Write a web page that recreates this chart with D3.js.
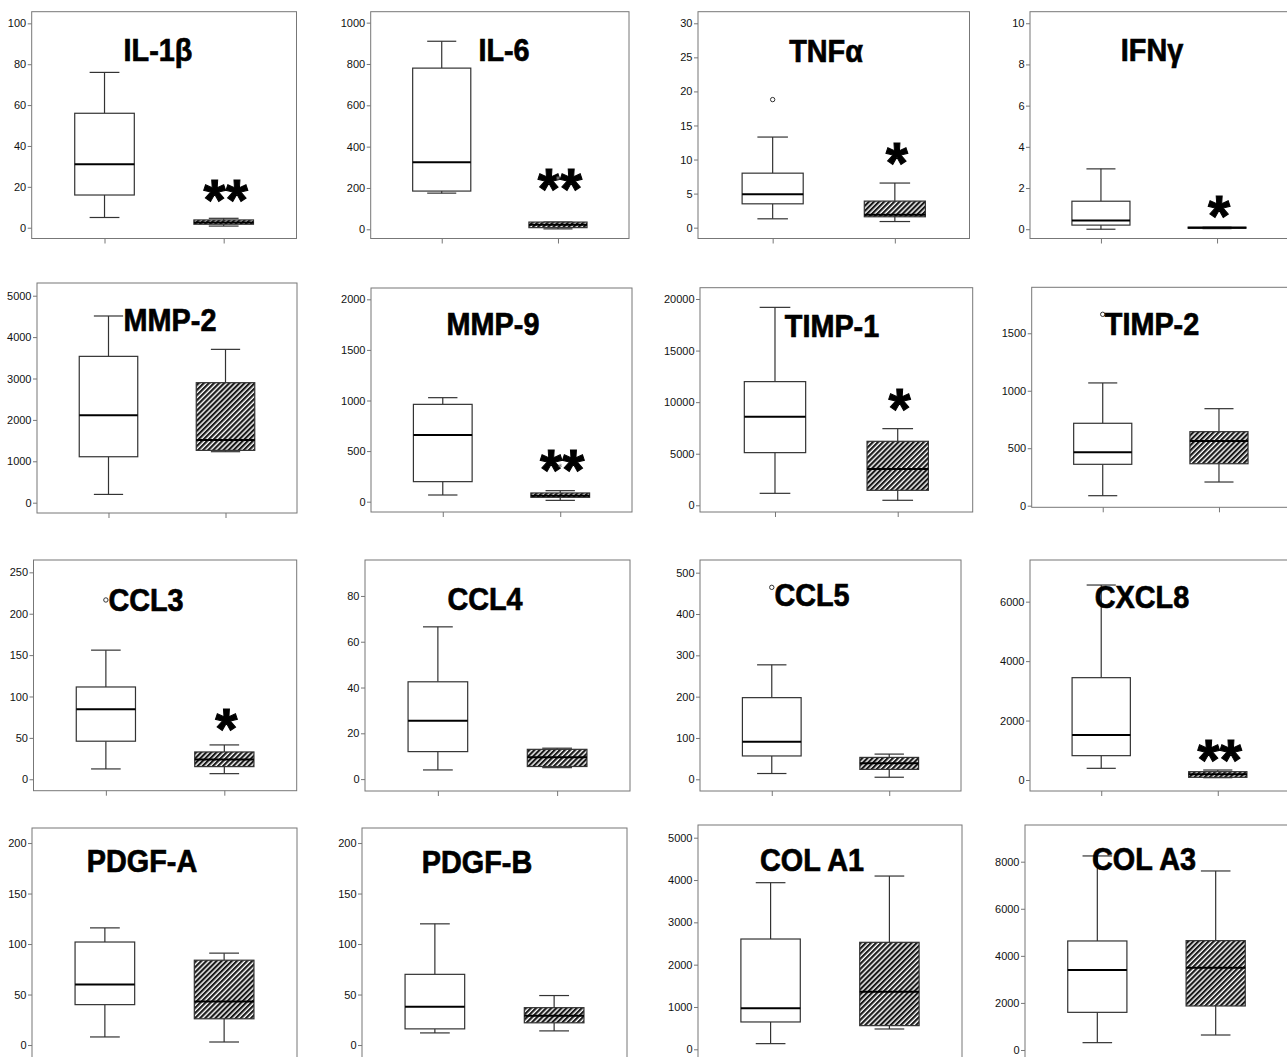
<!DOCTYPE html>
<html><head><meta charset="utf-8">
<script src="https://cdn.jsdelivr.net/npm/d3@7"></script>
<style>body{margin:0;background:#fff} svg{display:block}</style>
</head><body>
<svg id="chart" width="1287" height="1057"></svg>
<script>
// ---------- DATA ----------
const markers = ["IL-1β","IL-6","TNFα","IFNγ","MMP-2","MMP-9","TIMP-1","TIMP-2","CCL3","CCL4","CCL5","CXCL8","PDGF-A","PDGF-B","COL A1","COL A3"];
const groups = ["Group 1","Group 2"];
// [min, q1, median, q3, max]
const group1Stats = [
  [5, 16, 31, 56, 76],
  [175, 185, 325, 780, 910],
  [1.3, 3.5, 4.9, 8.0, 13.3],
  [0, 0.2, 0.42, 1.36, 2.93],
  [200, 1110, 2110, 3535, 4510],
  [66, 198, 659, 962, 1028],
  [1160, 5105, 8595, 11990, 19190],
  [87, 360, 464, 717, 1068],
  [12.5, 46, 84.5, 111.5, 156],
  [4, 12, 25.5, 42.5, 66.5],
  [14, 56.5, 91, 197.6, 277],
  [393, 819, 1514, 3443, 6560],
  [8, 40, 60, 102, 116],
  [12, 16, 38, 70, 120],
  [134, 646, 969, 2606, 3937],
  [312, 1600, 3399, 4632, 8244]
];
const group2Stats = [
  [0.8, 1.7, 2.6, 3.8, 4.6],
  [2, 8, 22, 35, 35],
  [0.9, 1.6, 1.9, 3.9, 6.55],
  [0.03, 0.05, 0.07, 0.1, 0.1],
  [1232, 1264, 1514, 2899, 3704],
  [13, 43, 59, 86, 109],
  [485, 1454, 3522, 6204, 7431],
  [206, 365, 563, 644, 844],
  [6.8, 15.3, 24, 33, 41.5],
  [5, 5.5, 9.5, 13, 13.5],
  [5, 24, 39, 53, 61],
  [78, 90, 190, 280, 336],
  [3, 26, 43, 84, 91],
  [14, 22, 29, 37, 49],
  [480, 559, 1362, 2528, 4094],
  [637, 1870, 3499, 4646, 7606]
];
// outliers (circles): [markerIndex, groupIndex, value]
const outliers = [[2, 0, 18.8], [7, 0, 1665], [8, 0, 216.6], [10, 0, 464.5]];
// extreme values (small stars): [markerIndex, groupIndex, value]
const extremes = [[1, 1, 248], [5, 1, 356]];
const significance = ["**","**","*","*","","**","*","","*","","","**","","","",""];
const significanceAt = [19.4, 253, 11.2, 1.23, 0, 435, 10528, 0, 75.6, 0, 0, 1067, 0, 0, 0, 0];
const tickValues = [
  [0,20,40,60,80,100],
  [0,200,400,600,800,1000],
  [0,5,10,15,20,25,30],
  [0,2,4,6,8,10],
  [0,1000,2000,3000,4000,5000],
  [0,500,1000,1500,2000],
  [0,5000,10000,15000,20000],
  [0,500,1000,1500],
  [0,50,100,150,200,250],
  [0,20,40,60,80],
  [0,100,200,300,400,500],
  [0,2000,4000,6000],
  [0,50,100,150,200],
  [0,50,100,150,200],
  [0,1000,2000,3000,4000,5000],
  [0,2000,4000,6000,8000]
];

// ---------- LAYOUT ----------
const frames = [
  [31.7, 11.7, 296.5, 238.5],
  [370.7, 11.7, 629, 238.5],
  [698, 11.7, 969.5, 238.5],
  [1030, 11.7, 1288, 238.5],
  [37, 283, 297, 513],
  [371, 288, 632, 512],
  [700, 287.7, 972.7, 512],
  [1031.7, 287.3, 1290, 507.3],
  [33.5, 560, 296.7, 790.7],
  [365, 560, 630, 791],
  [700, 560, 961, 791],
  [1030, 560, 1289, 791],
  [32, 828, 297, 1062],
  [362, 828, 627, 1062],
  [698, 825, 962, 1062],
  [1025, 825, 1288, 1062]
];
const yExtents = [
  [-5.28, 105.7], [-44.5, 1053], [-1.59, 31.7], [-0.45, 10.56],
  [-249, 5307], [-102, 2112], [-650, 21096], [-14, 1900],
  [-13.8, 264.9], [-5.2, 95.7], [-28.3, 530.7], [-370, 7402],
  [-16.8, 214.9], [-16.8, 214.9], [-300, 5300], [-510, 9559]
];
const titlePos = [
  [158, 61], [504, 61], [826, 61.5], [1152, 61],
  [170, 331], [493, 335], [832, 336.5], [1152, 335],
  [146, 611], [485, 610], [812, 606], [1142, 607.5],
  [142, 872], [477, 873], [812, 871], [1144, 870]
];

// ---------- DRAW ----------
const svg = d3.select("#chart");
const defs = svg.append("defs");
const pat = defs.append("pattern").attr("id","hatch").attr("patternUnits","userSpaceOnUse")
  .attr("width",3.6).attr("height",3.6).attr("patternTransform","rotate(45)");
pat.append("rect").attr("width",3.6).attr("height",3.6).attr("fill","#fff");
pat.append("rect").attr("width",2.2).attr("height",3.6).attr("fill","#1a1a1a");

const font = "'Liberation Sans', Arial, sans-serif";
const frameColor = "#777";
const boxColor = "#333";

markers.forEach((name, i) => {
  const [x0, y0, x1, y1] = frames[i];
  const g = svg.append("g");
  const y = d3.scaleLinear().domain(yExtents[i]).range([y1, y0]);
  const x = d3.scalePoint().domain(groups).range([x0, x1]).padding(0.611);
  const bw = 0.225 * (x1 - x0);

  // frame
  g.append("rect").attr("x", x0).attr("y", y0).attr("width", x1 - x0).attr("height", y1 - y0)
    .attr("fill", "none").attr("stroke", frameColor).attr("stroke-width", 1);

  // y axis
  const ya = g.append("g").attr("transform", `translate(${x0},0)`)
    .call(d3.axisLeft(y).tickValues(tickValues[i]).tickSize(4).tickPadding(1.5).tickFormat(d3.format("d")));
  ya.select(".domain").remove();
  ya.selectAll("line").attr("stroke", frameColor);
  ya.selectAll("text").attr("font-family", font).attr("font-size", 11).attr("fill", "#111");

  // x axis ticks
  const xa = g.append("g").attr("transform", `translate(0,${y1})`)
    .call(d3.axisBottom(x).tickSize(5).tickFormat(""));
  xa.select(".domain").remove();
  xa.selectAll("line").attr("stroke", frameColor);

  // boxes
  [group1Stats[i], group2Stats[i]].forEach((s, gi) => {
    const cx = x(groups[gi]);
    const [mn, q1, md, q3, mx] = s;
    const bg = g.append("g");
    bg.append("line").attr("x1", cx).attr("x2", cx).attr("y1", y(mx)).attr("y2", y(q3))
      .attr("stroke", boxColor).attr("stroke-width", 1.2);
    bg.append("line").attr("x1", cx).attr("x2", cx).attr("y1", y(q1)).attr("y2", y(mn))
      .attr("stroke", boxColor).attr("stroke-width", 1.2);
    [mn, mx].forEach(v => {
      bg.append("line").attr("x1", cx - bw / 4).attr("x2", cx + bw / 4).attr("y1", y(v)).attr("y2", y(v))
        .attr("stroke", boxColor).attr("stroke-width", 1.2);
    });
    bg.append("rect").attr("x", cx - bw / 2).attr("y", y(q3)).attr("width", bw)
      .attr("height", Math.max(1, y(q1) - y(q3)))
      .attr("fill", gi === 0 ? "#fff" : "url(#hatch)")
      .attr("stroke", boxColor).attr("stroke-width", 1.2);
    bg.append("line").attr("x1", cx - bw / 2).attr("x2", cx + bw / 2).attr("y1", y(md)).attr("y2", y(md))
      .attr("stroke", "#000").attr("stroke-width", 2);
  });

  // outliers
  outliers.filter(o => o[0] === i).forEach(o => {
    g.append("circle").attr("cx", x(groups[o[1]])).attr("cy", y(o[2])).attr("r", 2.2)
      .attr("fill", "#fff").attr("stroke", boxColor).attr("stroke-width", 1);
  });

  // title
  const [tx, ty] = titlePos[i];
  g.append("text").attr("transform", `translate(${tx},${ty}) scale(0.9,1)`)
    .attr("text-anchor", "middle").attr("font-family", font).attr("font-weight", "bold")
    .attr("font-size", 32).attr("fill", "#000").attr("stroke", "#000").attr("stroke-width", 0.7)
    .text(name);

  // significance
  if (significance[i]) {
    g.append("text").attr("x", x(groups[1]) + 2).attr("y", y(significanceAt[i]) + 32)
      .attr("text-anchor", "middle").attr("font-family", font).attr("font-weight", "bold")
      .attr("font-size", 57).attr("fill", "#000").attr("stroke", "#000").attr("stroke-width", 1)
      .text(significance[i]);
  }

  // extreme values (small star symbols)
  extremes.filter(o => o[0] === i).forEach(o => {
    g.append("path").attr("d", d3.symbol(d3.symbolAsterisk, 10)())
      .attr("transform", `translate(${x(groups[o[1]])},${y(o[2])})`)
      .attr("fill", "none").attr("stroke", "#888").attr("stroke-width", 0.8);
  });
});
</script>
</body></html>
